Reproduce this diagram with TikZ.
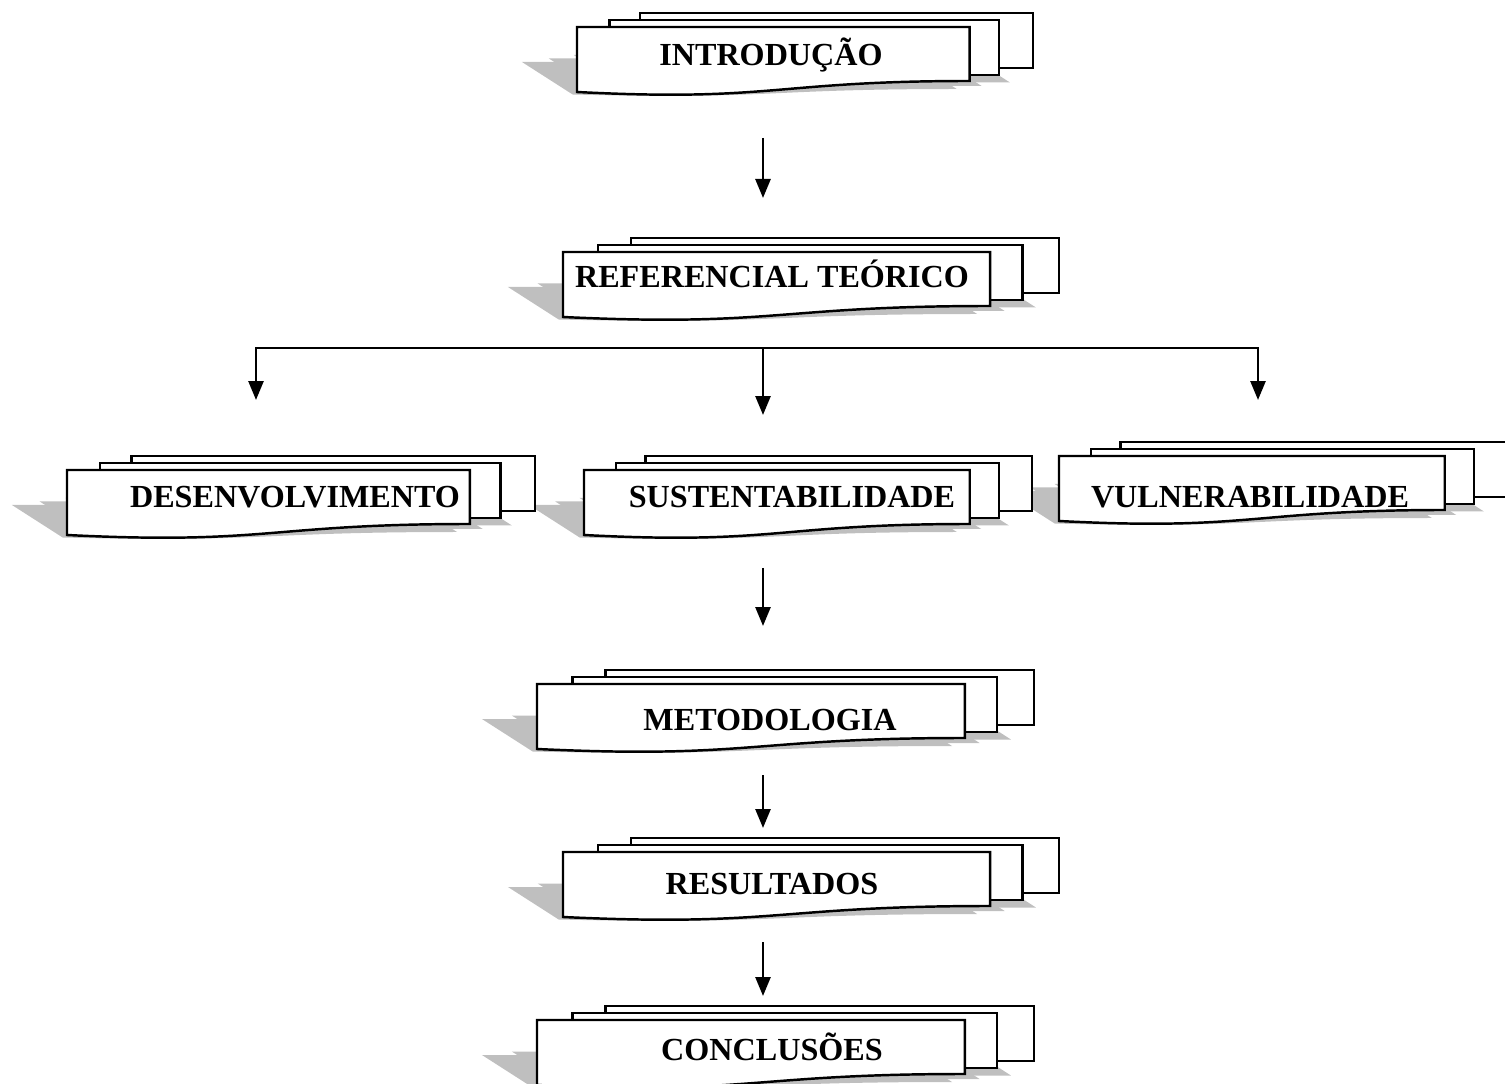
\documentclass[tikz,border=0pt]{standalone}
\usepackage{fontspec}
\setmainfont{Liberation Serif}
\usetikzlibrary{arrows.meta,calc}

\tikzset{
  docpage/.style={draw=black, fill=white, line width=1.4pt},
  docshadow/.style={fill=black!25},
  doctext/.style={font=\fontsize{18.3}{21}\selectfont\bfseries, inner sep=0pt, anchor=base},
  arr/.style={line width=1.5pt, -{Triangle[length=3.8mm, width=3.0mm]}}
}

% left / bottom / width of each stack of pages
\newcommand{\doclist}{577/988/456, 563/763/496, 67/545/468, 584/545/448,
  1059/559/448, 537/331/497, 563/163/496, 537/-5/497}

\begin{document}
\begin{tikzpicture}[x=0.02cm, y=0.02cm]
\useasboundingbox (0,0) rectangle (1505,1083);
\clip (0,0) rectangle (1505,1083);

% shadows first
\foreach \l/\b/\w in \doclist {
  \begin{scope}[shift={(\l,\b)}, cm={1,0,-0.78,0.5,(-2,-1)}]
    \fill[docshadow] ({0.1376*\w},27) rectangle (\w,82);
    \fill[docshadow] ({0.071*\w},20) rectangle ({0.926*\w},75);
    \fill[docshadow] (0,3) .. controls ({0.43*\w},-7) and ({0.43*\w},14) .. ({0.861*\w},14) |- (0,68) -- cycle;
  \end{scope}
}
% pages
\foreach \l/\b/\w in \doclist {
  \begin{scope}[shift={(\l,\b)}]
    \draw[docpage] ({0.1376*\w},27) rectangle (\w,82);
    \draw[docpage] ({0.071*\w},20) rectangle ({0.926*\w},75);
    \draw[docpage] (0,3) .. controls ({0.43*\w},-7) and ({0.43*\w},14) .. ({0.861*\w},14) |- (0,68) -- cycle;
  \end{scope}
}

\node[doctext] (intro) at (771,1017) {INTRODUÇÃO};
\node[doctext] (ref) at (772,795) {REFERENCIAL TEÓRICO};
\node[doctext] (desenv) at (295,575) {DESENVOLVIMENTO};
\node[doctext] (sust) at (792,575) {SUSTENTABILIDADE};
\node[doctext] (vuln) at (1250,575) {VULNERABILIDADE};
\node[doctext] (metod) at (770,353) {METODOLOGIA};
\node[doctext] (result) at (772,189) {RESULTADOS};
\node[doctext] (concl) at (772,23) {CONCLUSÕES};

\coordinate (intro-out) at (763,945);
\coordinate (ref-in) at (763,885);
\coordinate (split) at (763,735);
\coordinate (desenv-in) at (256,683);
\coordinate (sust-in) at (763,668);
\coordinate (vuln-in) at (1258,683);
\coordinate (sust-out) at (763,515);
\coordinate (metod-in) at (763,457);
\coordinate (metod-out) at (763,308);
\coordinate (result-in) at (763,255);
\coordinate (result-out) at (763,141);
\coordinate (concl-in) at (763,87);

\draw[arr] (intro-out) -- (ref-in);
\draw[arr] (split) -| (desenv-in);
\draw[arr] (split) -- (sust-in);
\draw[arr] (split) -| (vuln-in);
\draw[arr] (sust-out) -- (metod-in);
\draw[arr] (metod-out) -- (result-in);
\draw[arr] (result-out) -- (concl-in);
\end{tikzpicture}
\end{document}
